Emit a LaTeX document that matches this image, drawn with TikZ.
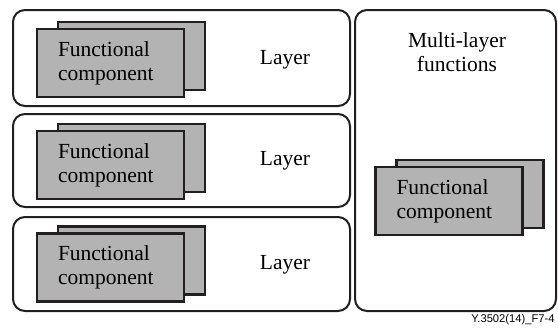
\documentclass[tikz,border=0pt]{standalone}
\usepackage{fontspec}
\setmainfont{Liberation Serif}
\newfontfamily\capfont{Liberation Sans}
\definecolor{edgegray}{HTML}{231F20}
\definecolor{compgray}{HTML}{B3B3B3}
\begin{document}
\begin{tikzpicture}[x=0.5pt,y=-0.5pt]
		\tikzset{layerbox/.style = {draw=edgegray,line width=1pt,rounded corners=6pt,minimum width=168.5pt,inner sep=0pt}}
		\tikzset{compback/.style = {draw=edgegray,fill=compgray,line width=1.1pt,minimum width=73.5pt,minimum height=34pt,inner sep=0pt}}
		\tikzset{compfront/.style = {compback,text width=52.5pt,inner xsep=10.5pt,align=left,font=\fontsize{10.75}{12}\selectfont}}
		\tikzset{lbl/.style = {font=\fontsize{10.75}{12}\selectfont,align=center}}
		\useasboundingbox (0,0) rectangle (558,329);
		\node[layerbox,minimum height=48pt] (l1) at (181.5,58) {};
		\node[layerbox,minimum height=46.5pt] (l2) at (181.5,160.5) {};
		\node[layerbox,minimum height=47pt] (l3) at (181.5,264) {};
		\node[layerbox,minimum width=100.5pt,minimum height=150.5pt] (ml) at (455.5,160.5) {};
		\node[compback] (b1) at (131.5,56) {};
		\node[compfront] (c1) at (110.5,63) {Functional\\component};
		\node[compback] (b2) at (131.5,158) {};
		\node[compfront] (c2) at (110.5,165) {Functional\\component};
		\node[compback] (b3) at (131.5,260.5) {};
		\node[compfront] (c3) at (110.5,267.5) {Functional\\component};
		\node[compback] (b4) at (470,194) {};
		\node[compfront] (c4) at (449,201) {Functional\\component};
		\node[lbl] (t1) at (285,60) {Layer};
		\node[lbl] (t2) at (285,161) {Layer};
		\node[lbl] (t3) at (285,265) {Layer};
		\node[lbl] (tm) at (457,52) {Multi-layer\\functions};
		\node[anchor=east,inner sep=0pt,font=\capfont\fontsize{5.6}{6}\selectfont] (fig) at (555,320) {Y.3502(14)\_F7-4};
	\end{tikzpicture}
\end{document}
